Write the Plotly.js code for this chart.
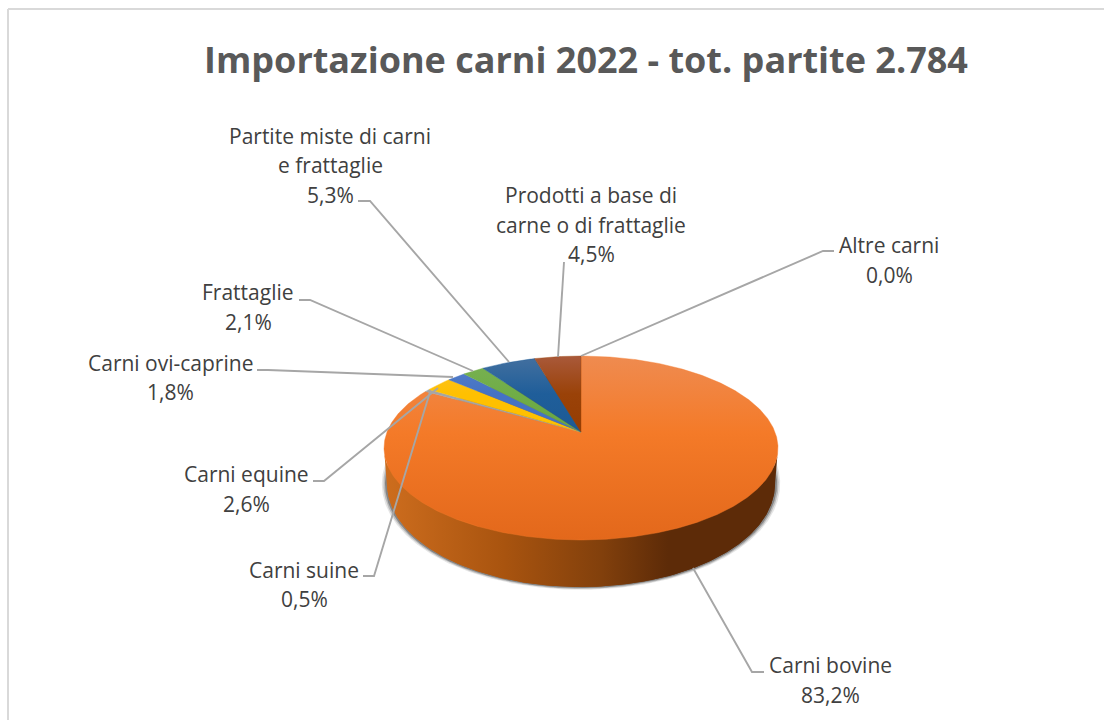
<!DOCTYPE html>
<html>
<head>
<meta charset="utf-8">
<script src="https://cdn.plot.ly/plotly-3.0.1.min.js"></script>
<style>html,body{margin:0;padding:0;background:#fff}#chart{width:1104px;height:720px}</style>
</head>
<body>
<div id="chart"></div>
<script>
// ---- data ----
const categories = ["Carni bovine","Carni suine","Carni equine","Carni ovi-caprine","Frattaglie","Partite miste di carni e frattaglie","Prodotti a base di carne o di frattaglie","Altre carni"];
const shares = [83.2, 0.5, 2.6, 1.8, 2.1, 5.3, 4.5, 0.0];
const shareLabels = ["83,2%","0,5%","2,6%","1,8%","2,1%","5,3%","4,5%","0,0%"];
const titleText = "Importazione carni 2022 - tot. partite 2.784";

// ---- styles ----
const sliceLight = ["#ef8b50","#b5b5b5","#fbc231","#5a82c9","#79b153","#44709f","#a9593a","#ef8b50"];
const sliceMid   = ["#f47a28","#a5a5a5","#ffc000","#4472c4","#70ad47","#1f5e9a","#9a4208","#f47a28"];
const sliceDark  = ["#e3681b","#a5a5a5","#ffc000","#4472c4","#6aa643","#1d5a94","#953d03","#e3681b"];
const labelLines = [
  {lines:["Carni bovine"], cx:830, ys:[665]},
  {lines:["Carni suine"], cx:304, ys:[570]},
  {lines:["Carni equine"], cx:246, ys:[474]},
  {lines:["Carni ovi-caprine"], cx:170, ys:[363]},
  {lines:["Frattaglie"], cx:248, ys:[292]},
  {lines:["Partite miste di carni","e frattaglie"], cx:330, ys:[136,165]},
  {lines:["Prodotti a base di","carne o di frattaglie"], cx:591, ys:[195,225]},
  {lines:["Altre carni"], cx:889, ys:[245]}
];
const labelPctY = [695, 599, 504, 392, 322, 195, 254, 275];
const labelPctX = [830, 304, 246, 170, 248, 330, 591, 889];
const leaders = [
  "M764,672 L752,672 L693,568",
  "M363,576 L374,576 L430,392",
  "M313,481 L324,481 L438,388",
  "M257,370 L268,370 L453,377",
  "M299,300 L310,300 L473,371",
  "M358,201 L370,201 L509,362",
  "M564,262 L558,357",
  "M834,251 L823,251 L581,356"
];

// ---- projection of a tilted disc (view perspective) ----
const CX = 581, CY = 432, A = 194, B = 89.2, P = 0.174;
function project(deg, k) {
  const t = deg * Math.PI / 180, u = Math.sin(t), v = -Math.cos(t), w = 1 - P * v;
  return {x: CX + A * k * u / w, y: CY + B * k * v / w, v: v};
}
function rim(fromDeg, toDeg) {
  const pts = [], n = Math.max(1, Math.ceil((toDeg - fromDeg) / 0.5));
  for (let i = 0; i <= n; i++) pts.push(project(fromDeg + (toDeg - fromDeg) * i / n, 1));
  return pts;
}
function lower(p, grow) {
  const d = 33 + 14 * p.v;
  return {x: CX + (p.x - CX) * (0.985 + grow), y: p.y + d + (p.y - CY) * grow};
}

const traces = [];
const full = rim(0, 360);
function poly(pts, extra) {
  return Object.assign({type:"scatter", mode:"lines", x:pts.map(p=>p.x), y:pts.map(p=>p.y),
    fill:"toself", line:{width:0}, hoverinfo:"skip", showlegend:false}, extra);
}
// soft shadow under the cake
[[0.026,0.12],[0.018,0.22],[0.010,0.38]].forEach(s => {
  traces.push(poly(full.map(p=>lower(p,s[0])), {fillcolor:"rgba(45,45,45,"+s[1]+")"}));
});
// side wall
const sideGrad = {type:"horizontal", start:385, stop:778,
  colorscale:[[0,"#cd6d1e"],[0.3,"#a9540f"],[0.55,"#82400c"],[0.72,"#5d2b08"],[1,"#5d2b08"]]};
traces.push(poly(full.map(p=>lower(p,0)), {fillgradient:sideGrad, fillcolor:"#82400c"}));
let iL = 0, iR = 0;
full.forEach((p,i)=>{ if (p.x < full[iL].x) iL = i; if (p.x > full[iR].x) iR = i; });
const front = full.slice(iR, iL + 1);
traces.push(poly(front.concat(front.slice().reverse().map(p=>lower(p,0))), {fillgradient:sideGrad, fillcolor:"#82400c"}));

// top face slices, clockwise from 12 o'clock
let run = 0;
const total = shares.reduce((a,b)=>a+b,0);
shares.forEach((s,i) => {
  const a0 = run / total * 360, a1 = (run + s) / total * 360;
  run += s;
  if (s <= 0) return;
  const pts = [{x:CX,y:CY}].concat(rim(a0,a1)); pts.push({x:CX,y:CY});
  const big = i === 0;
  const grad = big
    ? {type:"vertical", start:356, stop:540, colorscale:[[0,sliceLight[i]],[0.42,sliceMid[i]],[1,sliceDark[i]]]}
    : {type:"vertical", start:356, stop:432, colorscale:[[0,sliceLight[i]],[0.5,sliceMid[i]],[1,sliceDark[i]]]};
  traces.push(poly(pts, {name:categories[i], fillgradient:grad, fillcolor:sliceMid[i],
    line:{width:0.4, color:sliceMid[i]}}));
});

const annotations = [];
const labelFont = {family:"'Open Sans', sans-serif", size:21, color:"#404040"};
labelLines.forEach((l,i) => {
  l.lines.forEach((t,j) => annotations.push({text:t, x:l.cx, y:l.ys[j], xref:"x", yref:"y", showarrow:false,
    xanchor:"center", yanchor:"middle", font:labelFont}));
  annotations.push({text:shareLabels[i], x:labelPctX[i], y:labelPctY[i], xref:"x", yref:"y", showarrow:false,
    xanchor:"center", yanchor:"middle", font:labelFont});
});

const shapes = leaders.map(d => ({type:"path", path:d, xref:"x", yref:"y", line:{color:"#a6a6a6", width:1.9}}));
shapes.push({type:"line", xref:"x", yref:"y", x0:8, x1:1104, y0:9, y1:9, line:{color:"#d9d9d9", width:2}});
shapes.push({type:"line", xref:"x", yref:"y", x0:8, x1:8, y0:9, y1:720, line:{color:"#d9d9d9", width:2}});

const layout = {
  width:1104, height:720,
  margin:{l:0,r:0,t:0,b:0},
  paper_bgcolor:"#ffffff", plot_bgcolor:"#ffffff",
  showlegend:false, hovermode:false,
  title:{text:titleText, x:586/1104, xanchor:"center", xref:"paper", y:1-60/720, yref:"paper", yanchor:"middle",
    font:{family:"'Open Sans', sans-serif", size:36, weight:700, color:"#595959"}},
  xaxis:{range:[0,1104], visible:false, fixedrange:true},
  yaxis:{range:[720,0], visible:false, fixedrange:true},
  annotations:annotations, shapes:shapes
};
Plotly.newPlot("chart", traces, layout, {displayModeBar:false, staticPlot:true});
</script>
</body>
</html>
